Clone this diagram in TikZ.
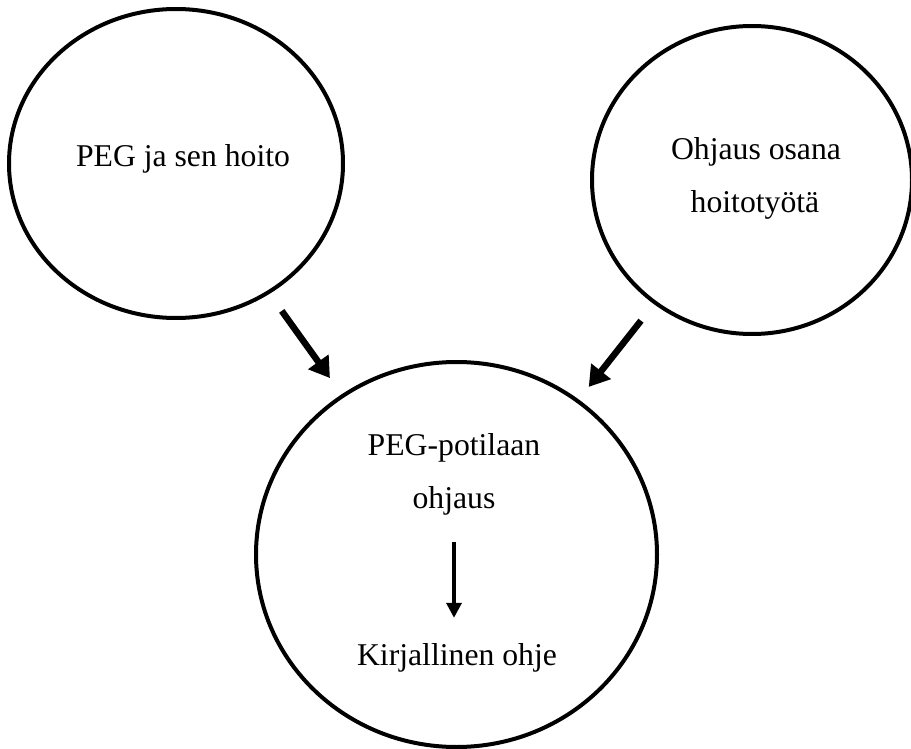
\documentclass[tikz,border=0pt]{standalone}
\usepackage{fontspec}
\setmainfont{Liberation Serif}
\usetikzlibrary{shapes.geometric,arrows.meta}
\begin{document}
\begin{tikzpicture}[x=1pt,y=-1pt,
  bubble/.style={ellipse,draw=black,line width=4pt,inner sep=0pt},
  label/.style={inner sep=0pt,anchor=base,font=\fontsize{31.7}{53}\selectfont},
  bigarrow/.style={line width=6.5pt,-{Triangle[width=24pt,length=20pt]}},
  smallarrow/.style={line width=3.5pt,-{Triangle[width=15pt,length=15pt]}}]
\useasboundingbox (0,0) rectangle (911,749);
\node[bubble,minimum width=334pt,minimum height=309pt] (left) at (176,163.5) {};
\node[bubble,minimum width=320pt,minimum height=308pt] (right) at (752,180) {};
\node[bubble,minimum width=401pt,minimum height=385pt] (bottom) at (456.5,554.5) {};
\node[label] (t1) at (183,167) {PEG ja sen hoito};
\node[label] (t2a) at (756,160) {Ohjaus osana};
\node[label] (t2b) at (755,213) {hoitotyötä};
\node[label] (t3a) at (454,455) {PEG-potilaan};
\node[label] (t3b) at (454,508) {ohjaus};
\node[label] (t3c) at (457,665) {Kirjallinen ohje};
\draw[bigarrow,shorten <=21pt,shorten >=20pt] (left) -- (bottom);
\draw[bigarrow,shorten <=21pt,shorten >=16pt] (right) -- (bottom);
\draw[smallarrow,shorten <=27pt,shorten >=25pt] (t3b.south) -- (t3b.south |- t3c.north);
\end{tikzpicture}
\end{document}
